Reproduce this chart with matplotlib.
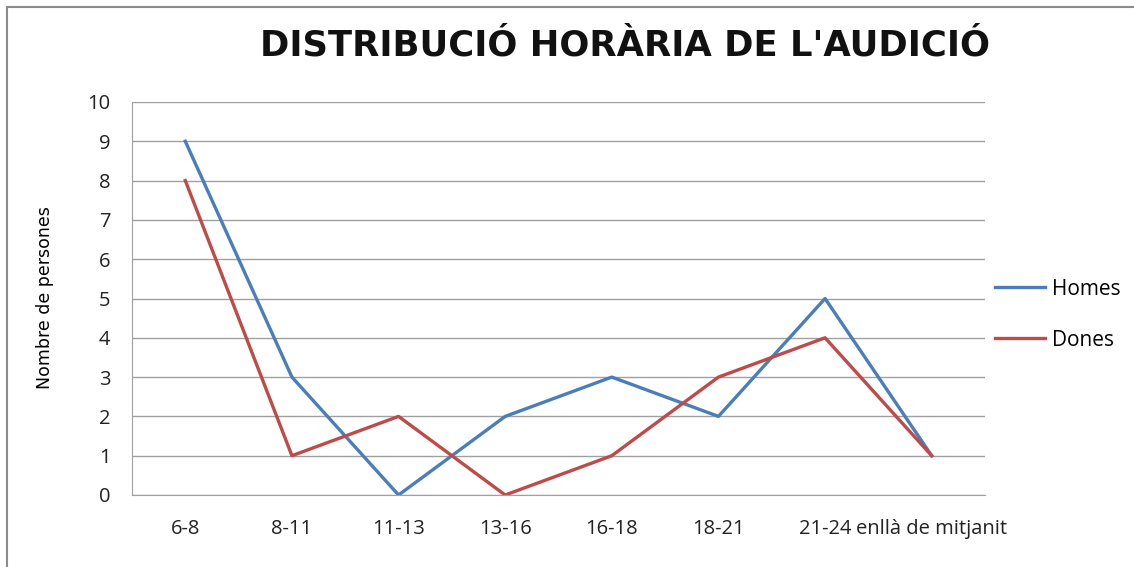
import matplotlib
matplotlib.use("Agg")
from matplotlib import pyplot as plt
from matplotlib.patches import Rectangle

###################
## Data
###################
categories = ["6-8", "8-11", "11-13", "13-16", "16-18", "18-21", "21-24", "enllà de mitjanit"]
homes = [9, 3, 0, 2, 3, 2, 5, 1]
dones = [8, 1, 2, 0, 1, 3, 4, 1]
y_ticks = list(range(0, 11))

plt.rcParams["font.family"] = ["Open Sans", "DejaVu Sans"]

def main():
  fig = plt.figure(figsize=(11.34, 5.67), dpi=100)

  # outer chart frame
  fig.patches.append(Rectangle((7 / 1134, -0.01), 1.1, 1 - 7 / 567 + 0.01,
                               transform=fig.transFigure, fill=False,
                               edgecolor="#8c8c8c", linewidth=1.5))

  ax = fig.add_axes([132 / 1134, 1 - 495 / 567, (985 - 132) / 1134, (495 - 102) / 567])
  x = list(range(len(categories)))
  ax.plot(x, homes, color="#4A7EBB", linewidth=2.4, label="Homes")
  ax.plot(x, dones, color="#BE4B48", linewidth=2.4, label="Dones")

  ax.set_xlim(-0.5, len(categories) - 0.5)
  ax.set_ylim(0, 10)
  ax.set_yticks(y_ticks)
  ax.set_xticks(x)
  ax.set_xticklabels(categories)
  ax.tick_params(axis="both", length=0, colors="#222222")
  ax.tick_params(axis="y", pad=15.5, labelsize=14.5)
  ax.tick_params(axis="x", pad=17, labelsize=14.5)
  ax.yaxis.grid(True, color="#a0a0a0", linewidth=1)
  for side in ["top", "right"]:
    ax.spines[side].set_visible(False)
  for side in ["left", "bottom"]:
    ax.spines[side].set_color("#a0a0a0")

  fig.text(45 / 1134, 1 - 298 / 567, "Nombre de persones", rotation=90,
           ha="center", va="center", fontsize=12.5,
           family=["Liberation Sans Narrow", "DejaVu Sans"], color="black")

  fig.text(625 / 1134, 1 - 45 / 567, "DISTRIBUCIÓ HORÀRIA DE L'AUDICIÓ",
           ha="center", va="center", fontsize=25.5, fontweight="bold",
           family=["DejaVu Sans"], color="#111111")

  ax.legend(loc="center left", bbox_to_anchor=((995 - 132) / 853, 0.459), frameon=False,
            fontsize=15, handlelength=2.4, labelspacing=1.44, handletextpad=0.34,
            borderaxespad=0, borderpad=0)

  fig.savefig("out.png", dpi=100)
  plt.close(fig)

if __name__ == "__main__":
  main()
